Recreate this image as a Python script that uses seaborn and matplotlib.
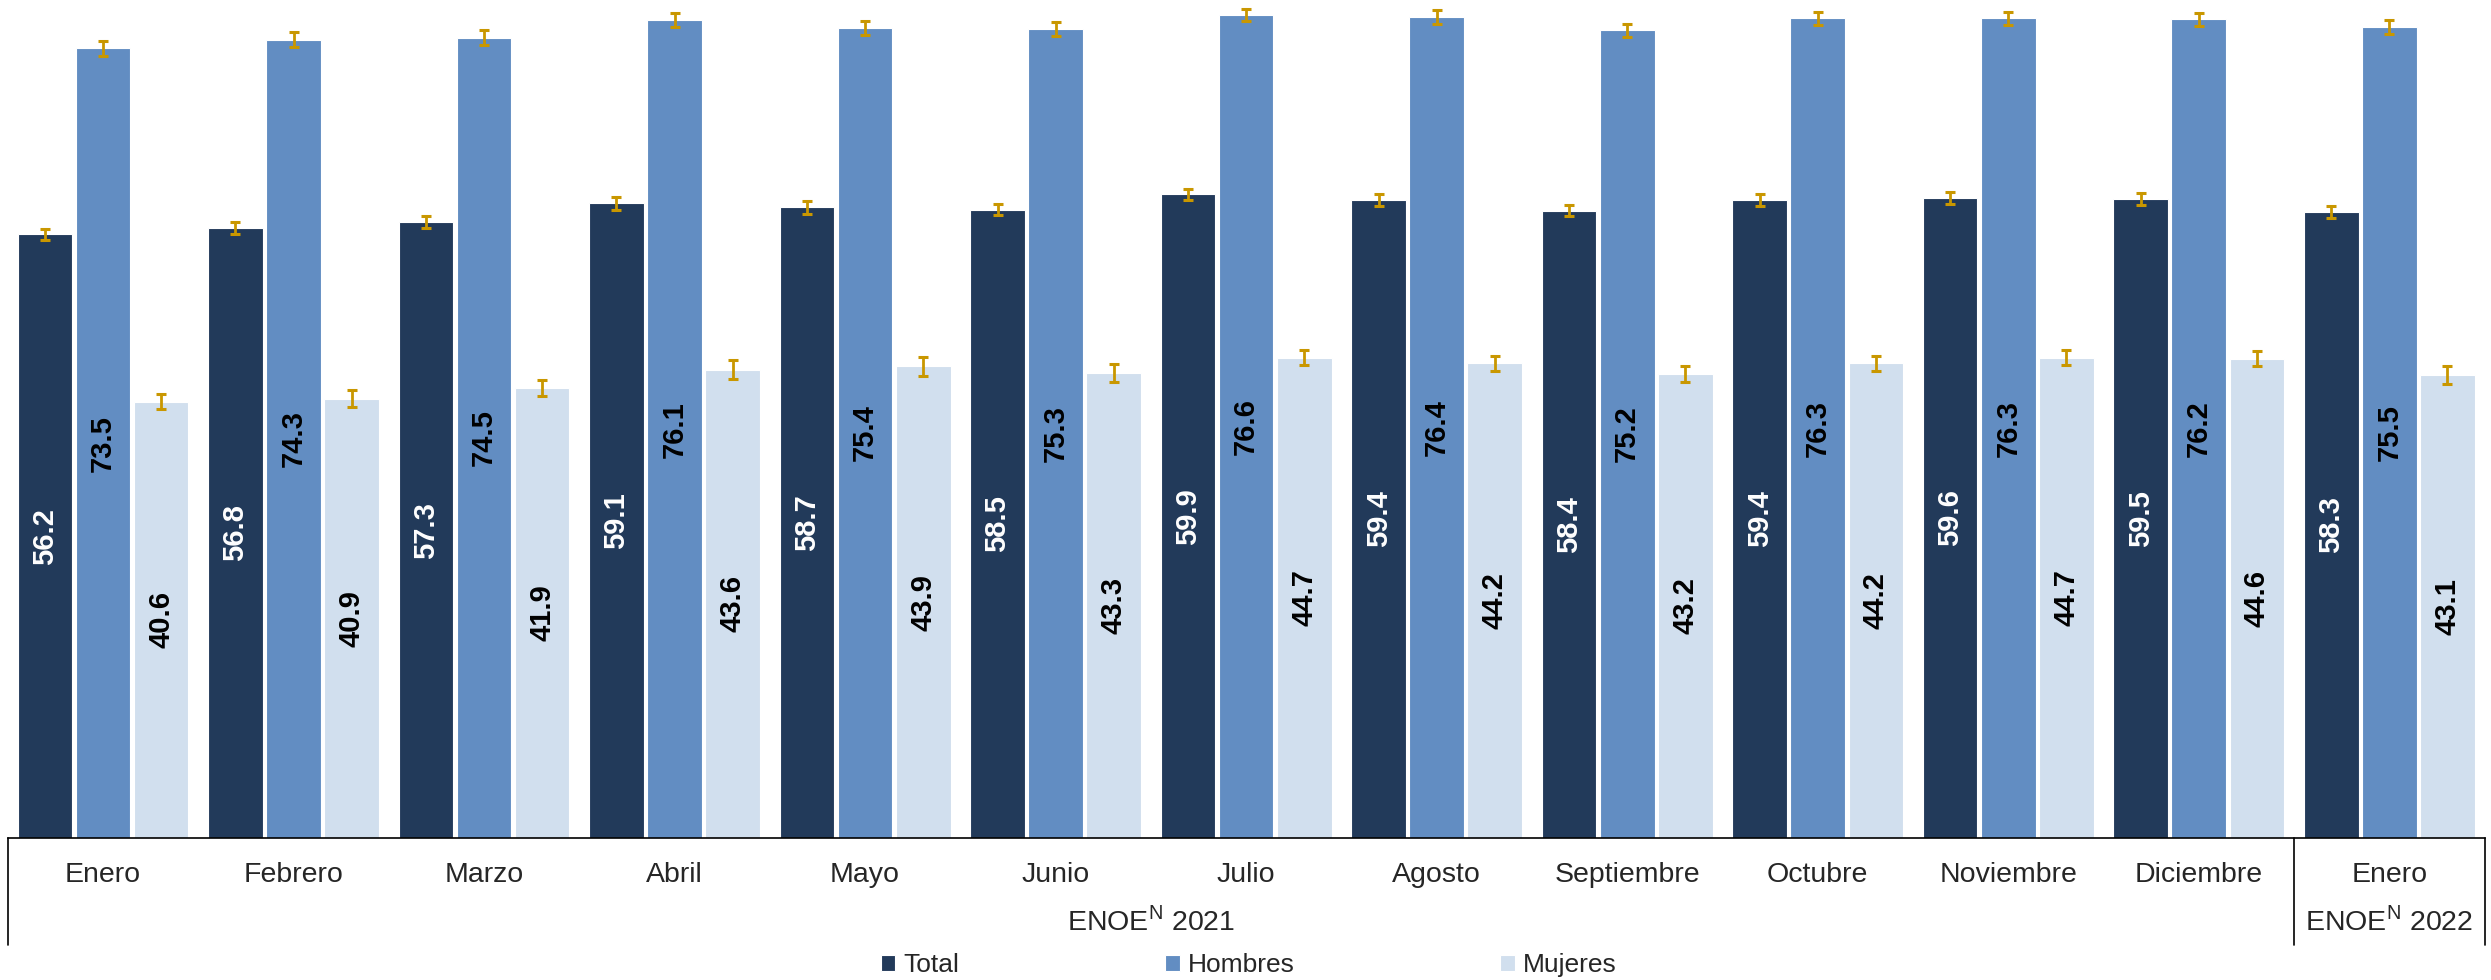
import pandas as pd
import matplotlib
matplotlib.use("Agg")
import matplotlib.pyplot as plt
import seaborn as sns

# Tasa de participacion economica (%), ENOE^N
periodos = ["Ene-2021", "Feb-2021", "Mar-2021", "Abr-2021", "May-2021", "Jun-2021",
            "Jul-2021", "Ago-2021", "Sep-2021", "Oct-2021", "Nov-2021", "Dic-2021", "Ene-2022"]
meses = ["Enero", "Febrero", "Marzo", "Abril", "Mayo", "Junio", "Julio", "Agosto",
         "Septiembre", "Octubre", "Noviembre", "Diciembre", "Enero"]
series = ["Total", "Hombres", "Mujeres"]

total = [56.2, 56.8, 57.3, 59.1, 58.7, 58.5, 59.9, 59.4, 58.4, 59.4, 59.6, 59.5, 58.3]
hombres = [73.5, 74.3, 74.5, 76.1, 75.4, 75.3, 76.6, 76.4, 75.2, 76.3, 76.3, 76.2, 75.5]
mujeres = [40.6, 40.9, 41.9, 43.6, 43.9, 43.3, 44.7, 44.2, 43.2, 44.2, 44.7, 44.6, 43.1]

# half-width of the confidence intervals
err_total = [0.5, 0.55, 0.55, 0.6, 0.6, 0.55, 0.55, 0.55, 0.55, 0.55, 0.55, 0.55, 0.55]
err_hombres = [0.7, 0.7, 0.7, 0.65, 0.65, 0.65, 0.6, 0.65, 0.6, 0.6, 0.6, 0.6, 0.65]
err_mujeres = [0.7, 0.8, 0.75, 0.9, 0.9, 0.85, 0.7, 0.7, 0.75, 0.7, 0.7, 0.7, 0.8]

colores = {"Total": "#223A5A", "Hombres": "#628DC2", "Mujeres": "#D1DFEE"}
color_err = "#C99700"

df = pd.DataFrame({
    "periodo": periodos * 3,
    "serie": [s for s in series for _ in periodos],
    "valor": total + hombres + mujeres,
})
errores = {"Total": err_total, "Hombres": err_hombres, "Mujeres": err_mujeres}
valores = {"Total": total, "Hombres": hombres, "Mujeres": mujeres}

sns.set_style("white")
plt.rcParams["font.family"] = ["Liberation Sans", "DejaVu Sans"]
plt.rcParams["mathtext.fontset"] = "custom"
plt.rcParams["mathtext.rm"] = "Liberation Sans"

fig = plt.figure(figsize=(24.91, 9.8), dpi=100)
ax = fig.add_axes([0.00311, 1 - 838 / 980, 0.99432, 838 / 980])

sns.barplot(data=df, x="periodo", y="valor", hue="serie", order=periodos,
            hue_order=series, palette=colores, saturation=1, width=0.915, gap=0.06,
            edgecolor="white", linewidth=0.8, errorbar=None, ax=ax)

for cont, serie in zip(ax.containers, series):
    xs = [p.get_x() + p.get_width() / 2 for p in cont]
    ax.errorbar(xs, valores[serie], yerr=errores[serie], fmt="none",
                ecolor=color_err, elinewidth=2.0, capsize=3.4, capthick=2.2, zorder=5)
    ax.bar_label(cont, labels=[f"{v:.1f}" for v in valores[serie]], label_type="center",
                 rotation=90, fontsize=21, fontweight="bold",
                 color="white" if serie == "Total" else "black")

ax.set_ylim(0, 78.0)
ax.set_xlim(-0.5, 12.5)
ax.set_yticks([])
ax.set_xticks([])
ax.set_xlabel("")
ax.set_ylabel("")
for s in ["left", "right", "top"]:
    ax.spines[s].set_visible(False)
ax.spines["bottom"].set_color("black")
ax.spines["bottom"].set_linewidth(1.2)

trans = ax.get_xaxis_transform()
for i, m in enumerate(meses):
    ax.text(i, -0.044, m, transform=trans, ha="center", va="center", fontsize=20.5)
ax.text(5.5, -0.1, r"ENOE$^{\mathrm{N}}$ 2021", transform=trans, ha="center", va="center", fontsize=20.5)
ax.text(12, -0.1, r"ENOE$^{\mathrm{N}}$ 2022", transform=trans, ha="center", va="center", fontsize=20.5)
for xv in [-0.5, 11.5, 12.5]:
    ax.plot([xv, xv], [0, -0.128], transform=trans, color="black", lw=1.2, clip_on=False)

sns.move_legend(ax, "center", bbox_to_anchor=(0.501, -0.152), ncol=3, frameon=False,
                title=None, fontsize=19, handlelength=0.55, handleheight=0.55,
                handletextpad=0.3, columnspacing=7.8)

fig.savefig("out.png", dpi=100)
plt.close()
